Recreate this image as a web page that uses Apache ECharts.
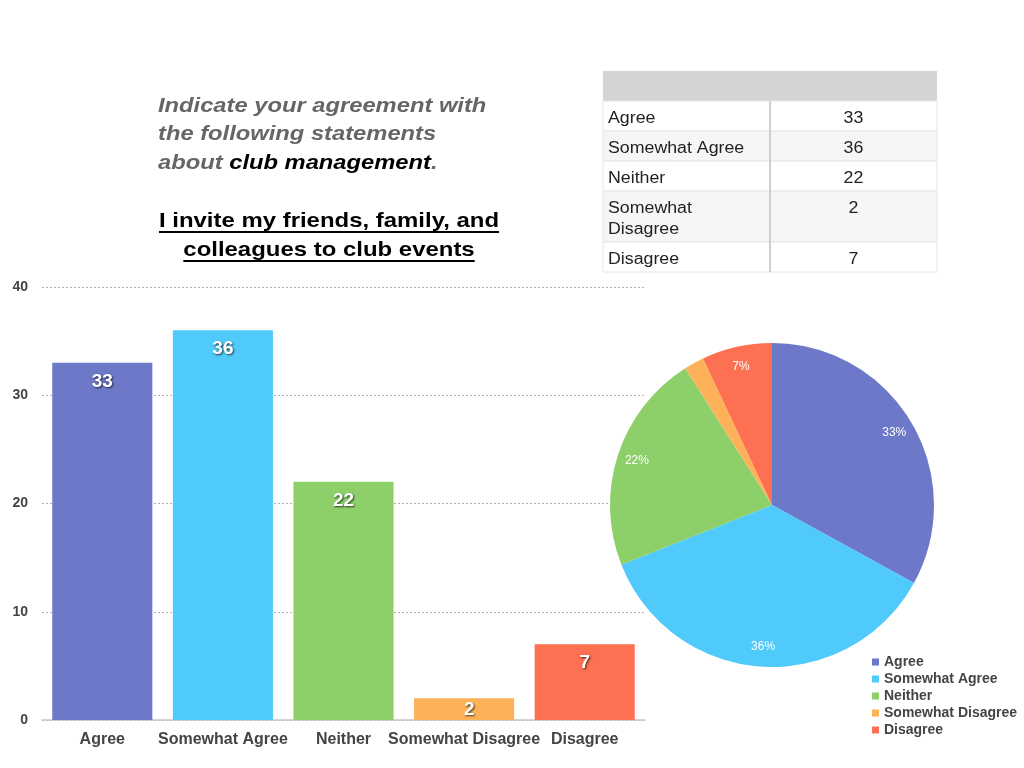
<!DOCTYPE html>
<html><head><meta charset="utf-8">
<script src="https://cdn.jsdelivr.net/npm/echarts@6/dist/echarts.min.js"></script>
<style>html,body{margin:0;padding:0;background:#fff}#c{width:1024px;height:768px}</style>
</head><body><div id="c"></div>
<script>
const categories = ['Agree', 'Somewhat Agree', 'Neither', 'Somewhat Disagree', 'Disagree'];
const values = [33, 36, 22, 2, 7];
const colors = ['#6e78c8', '#50c9fb', '#8dcf69', '#fdb25a', '#fd7052'];
const yTicks = { min: 0, max: 40, interval: 10 };
const titleLines = ['Indicate your agreement with', 'the following statements'];
const titleLast = ['about ', 'club management', '.'];
const subtitleLines = ['I invite my friends, family, and', 'colleagues to club events'];

const FONT = '"Liberation Sans", Arial, Helvetica, sans-serif';
const cv = document.createElement('canvas').getContext('2d');
function tw(text, font) { cv.font = font; return cv.measureText(text).width; }

const graphics = [];
// title block
const tFont = 'italic bold 21px ' + FONT;
const tScale = 1.13;
titleLines.forEach((t, i) => {
  graphics.push({ type: 'text', x: 158, y: 106 + i * 28.5, scaleX: tScale, style: { text: t, font: tFont, fill: '#666', verticalAlign: 'middle' } });
});
let xx = 158;
titleLast.forEach((t, i) => {
  graphics.push({ type: 'text', x: xx, y: 106 + 2 * 28.5, scaleX: tScale, style: { text: t, font: tFont, fill: i === 1 ? '#000' : '#666', verticalAlign: 'middle' } });
  xx += tw(t, tFont) * tScale;
});
const sFont = 'bold 21px ' + FONT;
const sScale = 1.14;
subtitleLines.forEach((t, i) => {
  const w = tw(t, sFont) * sScale;
  const cx = 329, y = 221 + i * 29;
  graphics.push({ type: 'text', x: cx, y: y, scaleX: sScale, style: { text: t, font: sFont, fill: '#000', align: 'center', verticalAlign: 'middle' } });
  graphics.push({ type: 'line', shape: { x1: cx - w / 2, y1: y + 11, x2: cx + w / 2, y2: y + 11 }, style: { stroke: '#000', lineWidth: 2 } });
});

// table
const tx0 = 603, tx1 = 770, tx2 = 937, ty0 = 71, hdrH = 30, rowH = 30, lineH = 21;
const cellFont = '16px ' + FONT;
const cScale = 1.11;
graphics.push({ type: 'rect', shape: { x: tx0, y: ty0, width: tx2 - tx0, height: hdrH }, style: { fill: '#d4d4d2' } });
let ry = ty0 + hdrH;
categories.forEach((c, i) => {
  let lines = [c];
  if (tw(c, cellFont) * cScale > tx1 - tx0 - 12) {
    const parts = c.split(' ');
    lines = [parts.slice(0, parts.length - 1).join(' '), parts[parts.length - 1]];
  }
  const h = lines.length === 1 ? rowH : rowH + (lines.length - 1) * lineH;
  graphics.push({ type: 'rect', shape: { x: tx0, y: ry, width: tx2 - tx0, height: h }, style: { fill: i % 2 ? '#f6f6f6' : '#ffffff', stroke: '#e6e6e6', lineWidth: 1 } });
  lines.forEach((l, k) => {
    graphics.push({ type: 'text', x: tx0 + 5, y: ry + 17.5 + k * lineH, scaleX: cScale, style: { text: l, font: cellFont, fill: '#222', verticalAlign: 'middle' } });
  });
  graphics.push({ type: 'text', x: (tx1 + tx2) / 2, y: ry + 17.5, scaleX: cScale, style: { text: String(values[i]), font: cellFont, fill: '#222', align: 'center', verticalAlign: 'middle' } });
  ry += h;
});
graphics.push({ type: 'line', shape: { x1: tx1, y1: ty0 + hdrH, x2: tx1, y2: ry }, style: { stroke: '#cfcfcf', lineWidth: 2 } });

const chart = echarts.init(document.getElementById('c'), null, { renderer: 'canvas' });
const pieData = categories.map((c, i) => ({ name: c, value: values[i], itemStyle: { color: colors[i] } }));
chart.setOption({
  animation: false,
  textStyle: { fontFamily: FONT },
  grid: { left: 42, right: 379, top: 287, bottom: 48 },
  xAxis: {
    type: 'category', data: categories,
    axisTick: { show: false },
    axisLine: { lineStyle: { color: '#c8c8c8', width: 1.5 } },
    axisLabel: { color: '#444', fontWeight: 'bold', fontSize: 16, margin: 12, interval: 0 }
  },
  yAxis: {
    type: 'value', min: yTicks.min, max: yTicks.max, interval: yTicks.interval,
    axisLabel: { color: '#444', fontWeight: 'bold', fontSize: 14, margin: 14 },
    axisLine: { show: false }, axisTick: { show: false },
    splitLine: { lineStyle: { color: '#b0b0b0', type: [2, 2], width: 1 } }
  },
  legend: {
    orient: 'vertical', left: 872, top: 655, icon: 'rect', itemWidth: 7, itemHeight: 7, itemGap: 3, padding: 0,
    data: categories,
    textStyle: { color: '#444', fontWeight: 'bold', fontSize: 14 }
  },
  graphic: graphics,
  series: [
    {
      type: 'bar', barCategoryGap: '17%',
      data: values.map((v, i) => ({ value: v, itemStyle: { color: colors[i] } })),
      label: {
        show: true, position: 'insideTop', distance: 9, color: '#fff', fontWeight: 'bold', fontSize: 19,
        textShadowColor: 'rgba(0,0,0,0.7)', textShadowBlur: 2, textShadowOffsetX: 1, textShadowOffsetY: 1
      },
      labelLayout: function (p) {
        if (p.rect.height < 40) return { y: p.rect.y + p.rect.height / 2 - p.labelRect.height / 2 + 1 };
        return {};
      }
    },
    {
      type: 'pie', center: [772, 505], radius: 162, startAngle: 90, clockwise: true,
      data: pieData, label: { show: false }, labelLine: { show: false }
    },
    {
      type: 'pie', center: [772, 505], radius: [118, 160], startAngle: 90, clockwise: true, silent: true,
      legendHoverLink: false,
      data: categories.map((c, i) => ({ name: c, value: values[i], itemStyle: { color: 'rgba(0,0,0,0)' } })),
      label: {
        show: true, position: 'inside', color: '#fff', fontSize: 12,
        formatter: p => p.percent < 5 ? '' : Math.round(p.percent) + '%'
      },
      labelLine: { show: false }
    }
  ]
});
</script></body></html>
